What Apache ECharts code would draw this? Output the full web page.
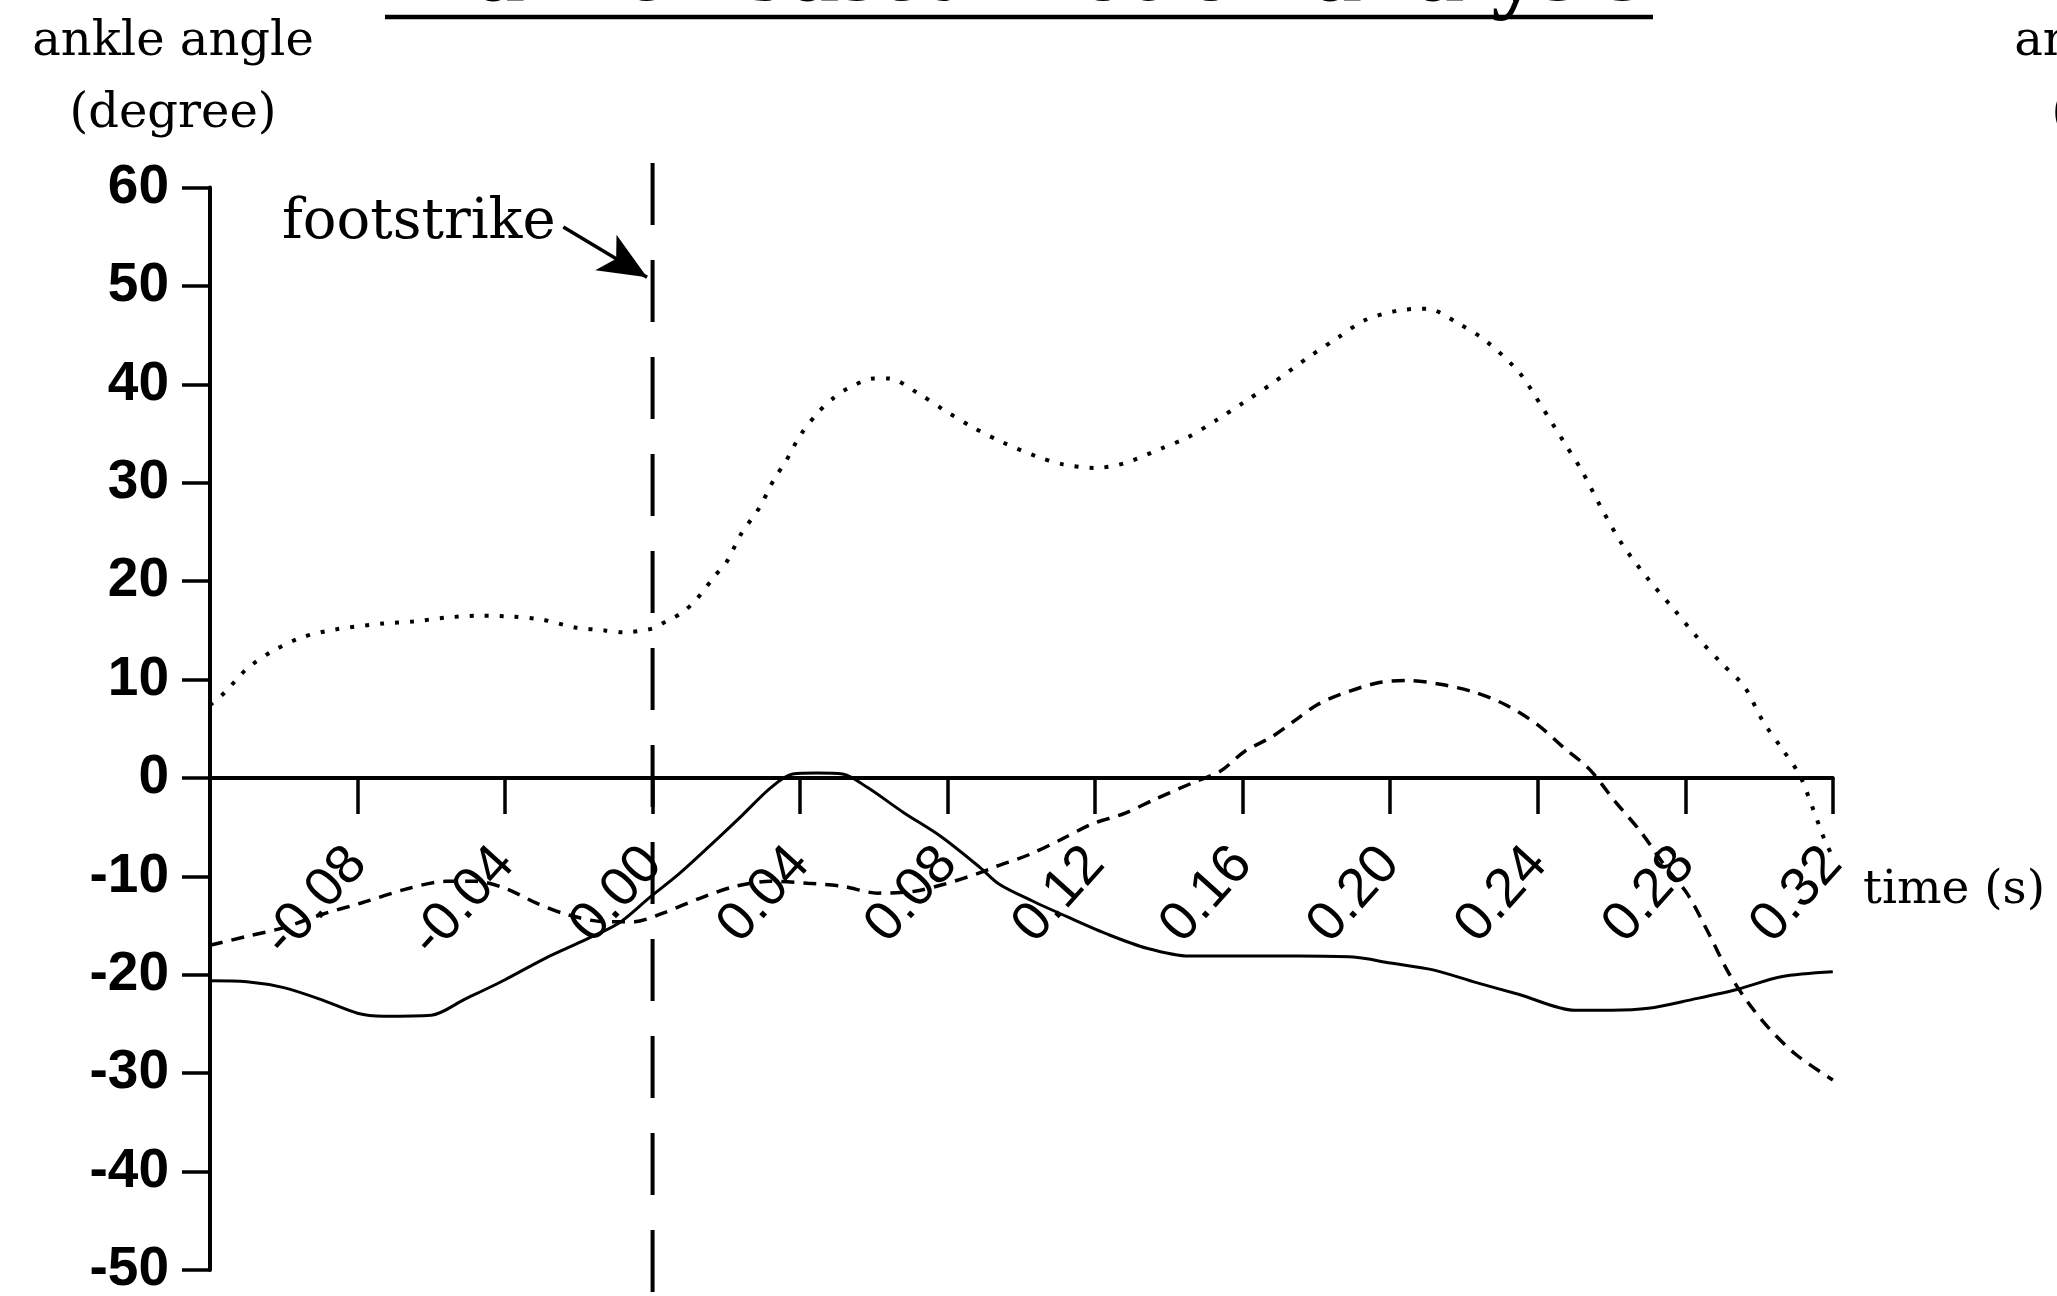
<!DOCTYPE html>
<html><head><meta charset="utf-8">
<script src="https://cdn.jsdelivr.net/npm/echarts@6/dist/echarts.min.js"></script>
<style>html,body{margin:0;padding:0;background:#fff}#c{width:2057px;height:1296px}</style>
</head><body><div id="c"></div>
<script>
// ---- data (time in seconds, ankle angle in degrees) ----
const xTickLabels = ['', '-0.08', '-0.04', '0.00', '0.04', '0.08', '0.12', '0.16', '0.20', '0.24', '0.28', '0.32'];
const yTickValues = [-50, -40, -30, -20, -10, 0, 10, 20, 30, 40, 50, 60];

const dottedTime  = [-0.12,-0.116,-0.11,-0.103,-0.095,-0.086,-0.073,-0.065,-0.056,-0.047,-0.038,-0.03,-0.021,-0.013,-0.008,0.0,0.004,0.008,0.012,0.017,0.020,0.024,0.029,0.033,0.036,0.040,0.045,0.049,0.053,0.060,0.064,0.072,0.079,0.087,0.095,0.104,0.111,0.120,0.128,0.138,0.145,0.153,0.160,0.168,0.178,0.186,0.193,0.202,0.210,0.218,0.226,0.235,0.241,0.247,0.252,0.257,0.263,0.270,0.277,0.283,0.290,0.296,0.301,0.306,0.311,0.3145,0.318,0.32];
const dottedAngle = [7.4,8.7,11.1,12.9,14.3,15.1,15.7,15.9,16.3,16.5,16.4,16.1,15.3,15.0,14.8,15.2,16.0,16.8,18.2,20.6,21.9,24.8,27.5,30.4,32.1,34.8,37.2,38.6,39.6,40.6,40.6,39.1,37.4,35.6,34.1,32.7,31.9,31.5,32.0,33.5,34.6,36.4,38.1,40.1,42.8,44.8,46.5,47.5,47.7,46.3,44.4,41.2,37.8,34.2,31.2,27.6,23.7,20.2,17.1,14.4,11.6,9.3,5.8,3.1,0.3,-3.0,-6.5,-8.0];

const dashedTime  = [-0.12,-0.11,-0.10,-0.09,-0.079,-0.066,-0.056,-0.048,-0.04,-0.031,-0.023,-0.013,-0.005,0.003,0.013,0.0225,0.032,0.042,0.0515,0.061,0.071,0.079,0.089,0.093,0.102,0.1105,0.119,0.128,0.136,0.147,0.154,0.1605,0.168,0.174,0.18,0.1865,0.197,0.205,0.214,0.223,0.2315,0.24,0.247,0.254,0.261,0.268,0.2748,0.2806,0.2865,0.2916,0.2968,0.3026,0.31,0.32];
const dashedAngle = [-17.0,-16.1,-15.2,-13.9,-12.7,-11.2,-10.5,-10.5,-11.2,-12.8,-13.9,-14.6,-14.6,-13.7,-12.2,-11.0,-10.5,-10.7,-11.0,-11.7,-11.5,-10.8,-9.6,-9.0,-7.8,-6.3,-4.7,-3.6,-2.2,-0.4,0.7,2.7,4.2,5.8,7.4,8.5,9.7,9.9,9.5,8.7,7.4,5.4,3.1,0.9,-2.4,-5.5,-9.1,-11.8,-15.9,-19.7,-22.7,-25.4,-28.1,-30.7];

const solidTime  = [-0.12,-0.11,-0.10,-0.09,-0.08,-0.073,-0.06,-0.051,-0.04,-0.029,-0.018,-0.009,-0.001,0.007,0.0155,0.024,0.032,0.038,0.0446,0.0515,0.0584,0.068,0.078,0.0888,0.094,0.103,0.113,0.1235,0.134,0.1455,0.16,0.175,0.19,0.20,0.2116,0.2234,0.235,0.25,0.26,0.27,0.282,0.294,0.306,0.32];
const solidAngle = [-20.6,-20.7,-21.3,-22.5,-23.9,-24.2,-24.1,-22.5,-20.5,-18.3,-16.4,-14.7,-12.2,-9.8,-6.9,-3.9,-1.0,0.4,0.5,0.4,-1.0,-3.5,-5.9,-9.1,-10.8,-12.5,-14.2,-15.9,-17.3,-18.1,-18.1,-18.1,-18.2,-18.8,-19.5,-20.8,-22.0,-23.6,-23.6,-23.4,-22.5,-21.5,-20.2,-19.7];

const footstrikeTime = [0.0, 0.0];
const footstrikeAngle = [62.5, -56];
const arrowFrom = [-0.0242, 56.0];
const arrowTo   = [-0.0015, 50.9];

// ---- build ----
const ms = t => Math.round(t * 10000) / 10;
const pairs = (ts, vs) => ts.map((t, i) => [ms(t), vs[i]]);
const SERIF = 'DejaVu Serif';
const SANS = 'Liberation Sans';
const yMin = yTickValues[0], yMax = yTickValues[yTickValues.length - 1];
const GRID_H = 1082.4;
const zeroOffset = -GRID_H * (0 - yMin) / (yMax - yMin); // put x axis on the zero line

const chart = echarts.init(document.getElementById('c'), null, {renderer: 'canvas'});
chart.setOption({
  animation: false,
  backgroundColor: '#fff',
  grid: {left: 210, top: 187.6, width: 1622.8, height: GRID_H, containLabel: false, outerBoundsMode: 'none'},
  xAxis: {
    type: 'value', min: -120, max: 320, interval: 40, position: 'bottom', offset: zeroOffset,
    axisLine: {show: true, onZero: false, lineStyle: {color: '#000', width: 4}},
    axisTick: {show: true, length: 36, lineStyle: {color: '#000', width: 3.5}},
    axisLabel: {
      rotate: 48, margin: 77, fontSize: 55, fontFamily: SANS, color: '#000',
      showMinLabel: true, showMaxLabel: true, hideOverlap: false,
      formatter: v => xTickLabels[Math.round((v + 120) / 40)] || ''
    },
    splitLine: {show: false}
  },
  yAxis: {
    type: 'value', min: yMin, max: yMax, interval: 10,
    axisLine: {show: true, onZero: false, lineStyle: {color: '#000', width: 4}},
    axisTick: {show: true, length: 28, lineStyle: {color: '#000', width: 3.5}},
    axisLabel: {margin: 41, fontSize: 55, fontWeight: 'bold', fontFamily: SANS, color: '#000'},
    splitLine: {show: false}
  },
  series: [
    {type: 'line', name: 'dotted', data: pairs(dottedTime, dottedAngle), showSymbol: false, smooth: 0.3,
     lineStyle: {color: '#000', width: 4, type: [4, 11]}},
    {type: 'line', name: 'dashed', data: pairs(dashedTime, dashedAngle), showSymbol: false, smooth: 0.3,
     lineStyle: {color: '#000', width: 3.5, type: [13, 9]}},
    {type: 'line', name: 'solid', data: pairs(solidTime, solidAngle), showSymbol: false, smooth: 0.3,
     lineStyle: {color: '#000', width: 3, type: 'solid'}},
    {type: 'line', name: 'footstrike', data: pairs(footstrikeTime, footstrikeAngle), showSymbol: false, clip: false,
     lineStyle: {color: '#000', width: 4, type: [62, 35]},
     markLine: {
       silent: true, symbol: ['none', 'arrow'], symbolSize: [31, 48],
       lineStyle: {color: '#000', width: 3.5, type: 'solid'},
       label: {show: false},
       data: [[{coord: [ms(arrowFrom[0]), arrowFrom[1]]}, {coord: [ms(arrowTo[0]), arrowTo[1]]}]]
     }}
  ],
  graphic: [
    {type: 'text', left: 385, top: -74, style: {text: 'Marker-based motion analysis', font: 'bold 97px "Liberation Serif"', fill: '#000'}},
    {type: 'line', shape: {x1: 385, y1: 17, x2: 1653, y2: 17}, style: {stroke: '#000', lineWidth: 4.5}},
    {type: 'text', x: 173, y: 43, style: {text: 'ankle angle', font: '48px "' + SERIF + '"', fill: '#000', align: 'center', verticalAlign: 'middle'}},
    {type: 'text', x: 173, y: 115, style: {text: '(degree)', font: '48px "' + SERIF + '"', fill: '#000', align: 'center', verticalAlign: 'middle'}},
    {type: 'text', x: 2155, y: 43, style: {text: 'ankle angle', font: '48px "' + SERIF + '"', fill: '#000', align: 'center', verticalAlign: 'middle'}},
    {type: 'text', x: 2155, y: 115, style: {text: '(degree)', font: '48px "' + SERIF + '"', fill: '#000', align: 'center', verticalAlign: 'middle'}},
    {type: 'text', x: 282, y: 223, style: {text: 'footstrike', font: '56px "' + SERIF + '"', fill: '#000', align: 'left', verticalAlign: 'middle'}},
    {type: 'text', x: 1863, y: 891, style: {text: 'time (s)', font: '47px "' + SERIF + '"', fill: '#000', align: 'left', verticalAlign: 'middle'}}
  ]
});
</script></body></html>
